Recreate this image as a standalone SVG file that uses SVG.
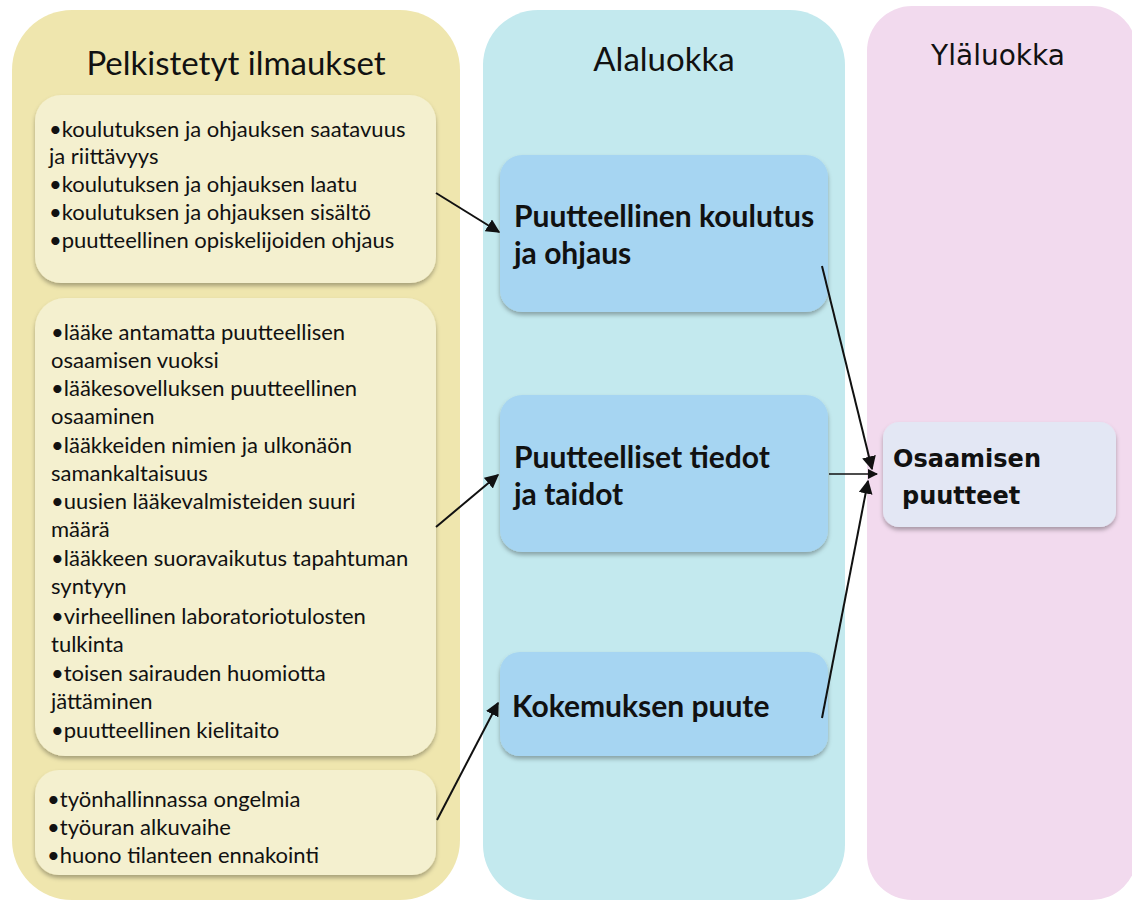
<svg xmlns="http://www.w3.org/2000/svg" width="1132" height="903" viewBox="0 0 1132 903">
  <style>
    .col-title { font-family: Lato, "Open Sans", "Liberation Sans", sans-serif; font-size: 33px; fill: #111; }
    .item { font-family: Lato, "Open Sans", "Liberation Sans", sans-serif; font-size: 22px; fill: #111; }
    .cat { font-family: Lato, "Open Sans", "Liberation Sans", sans-serif; font-size: 30px; font-weight: bold; fill: #111; }
    .main { font-family: "DejaVu Sans", "Liberation Sans", sans-serif; font-size: 24px; font-weight: bold; fill: #111; }
    .inner { fill: #F4F0CF; filter: url(#shadow); }
    .sub { fill: #A6D5F2; filter: url(#shadow); }
    .edge { stroke: #111; stroke-width: 2; fill: none; marker-end: url(#arrow); }
  </style>
  <defs>
    <filter id="shadow" x="-10%" y="-10%" width="120%" height="130%">
      <feDropShadow dx="0" dy="3" stdDeviation="2" flood-color="#000" flood-opacity="0.3"/>
    </filter>
    <marker id="arrow" viewBox="0 0 10 10" refX="9" refY="5" markerWidth="7" markerHeight="7" orient="auto" markerUnits="strokeWidth">
      <path d="M0,0 L10,5 L0,10 z" fill="#111"/>
    </marker>
  </defs>

  <rect width="1132" height="903" fill="#ffffff"/>

  <!-- column backgrounds -->
  <g id="col-pelkistetyt">
    <rect x="12" y="10" width="448" height="890" rx="60" fill="#EFE6AE"/>
    <text class="col-title" x="236" y="75" text-anchor="middle">Pelkistetyt ilmaukset</text>
  </g>
  <g id="col-alaluokka">
    <rect x="483" y="10" width="362" height="890" rx="55" fill="#C3E9EE"/>
    <text class="col-title" x="664" y="71" text-anchor="middle">Alaluokka</text>
  </g>
  <g id="col-ylaluokka">
    <rect x="867" y="6" width="270" height="894" rx="45" fill="#F2DAEE"/>
    <text x="998" y="65" text-anchor="middle" style="font-family:'DejaVu Sans','Liberation Sans',sans-serif;font-size:28px;fill:#111">Yläluokka</text>
  </g>

  <!-- reduced expressions -->
  <g id="ilmaukset-1">
    <rect class="inner" x="35" y="95" width="401" height="188" rx="26"/>
    <text class="item" x="49" y="137">•koulutuksen ja ohjauksen saatavuus</text>
    <text class="item" x="49" y="164">ja riittävyys</text>
    <text class="item" x="49" y="192">•koulutuksen ja ohjauksen laatu</text>
    <text class="item" x="49" y="220">•koulutuksen ja ohjauksen sisältö</text>
    <text class="item" x="49" y="248">•puutteellinen opiskelijoiden ohjaus</text>
  </g>
  <g id="ilmaukset-2">
    <rect class="inner" x="35" y="298" width="401" height="458" rx="30"/>
    <text class="item" x="51" y="340">•lääke antamatta puutteellisen</text>
    <text class="item" x="51" y="368">osaamisen vuoksi</text>
    <text class="item" x="51" y="396">•lääkesovelluksen puutteellinen</text>
    <text class="item" x="51" y="424">osaaminen</text>
    <text class="item" x="51" y="453">•lääkkeiden nimien ja ulkonäön</text>
    <text class="item" x="51" y="481">samankaltaisuus</text>
    <text class="item" x="51" y="509">•uusien lääkevalmisteiden suuri</text>
    <text class="item" x="51" y="537">määrä</text>
    <text class="item" x="51" y="566">•lääkkeen suoravaikutus tapahtuman</text>
    <text class="item" x="51" y="594">syntyyn</text>
    <text class="item" x="51" y="624">•virheellinen laboratoriotulosten</text>
    <text class="item" x="51" y="652">tulkinta</text>
    <text class="item" x="51" y="681">•toisen sairauden huomiotta</text>
    <text class="item" x="51" y="709">jättäminen</text>
    <text class="item" x="51" y="738">•puutteellinen kielitaito</text>
  </g>
  <g id="ilmaukset-3">
    <rect class="inner" x="35" y="770" width="401" height="105" rx="24"/>
    <text class="item" x="47" y="807">•työnhallinnassa ongelmia</text>
    <text class="item" x="47" y="835">•työuran alkuvaihe</text>
    <text class="item" x="47" y="863">•huono tilanteen ennakointi</text>
  </g>

  <!-- subcategories -->
  <g id="ala-koulutus">
    <rect class="sub" x="500" y="155" width="328" height="157" rx="22"/>
    <text class="cat" x="514" y="227">Puutteellinen koulutus</text>
    <text class="cat" x="514" y="264">ja ohjaus</text>
  </g>
  <g id="ala-tiedot">
    <rect class="sub" x="500" y="395" width="328" height="157" rx="22"/>
    <text class="cat" x="514" y="468">Puutteelliset tiedot</text>
    <text class="cat" x="514" y="505">ja taidot</text>
  </g>
  <g id="ala-kokemus">
    <rect class="sub" x="500" y="652" width="328" height="104" rx="20"/>
    <text class="cat" x="512" y="717">Kokemuksen puute</text>
  </g>

  <!-- main category -->
  <g id="yla-osaaminen">
    <rect x="883" y="422" width="233" height="105" rx="16" fill="#E3E7F4" filter="url(#shadow)"/>
    <text class="main" x="893" y="467">Osaamisen</text>
    <text class="main" x="902" y="504">puutteet</text>
  </g>

  <!-- connectors -->
  <g id="connectors">
    <line class="edge" x1="436" y1="193" x2="499" y2="232"/>
    <line class="edge" x1="436" y1="527" x2="498" y2="475"/>
    <line class="edge" x1="437" y1="820" x2="498" y2="703"/>
    <line class="edge" x1="822" y1="266" x2="872" y2="469"/>
    <line class="edge" x1="829" y1="474" x2="877" y2="474" style="stroke-width:1.5"/>
    <line class="edge" x1="822" y1="718" x2="868" y2="481"/>
  </g>
</svg>
